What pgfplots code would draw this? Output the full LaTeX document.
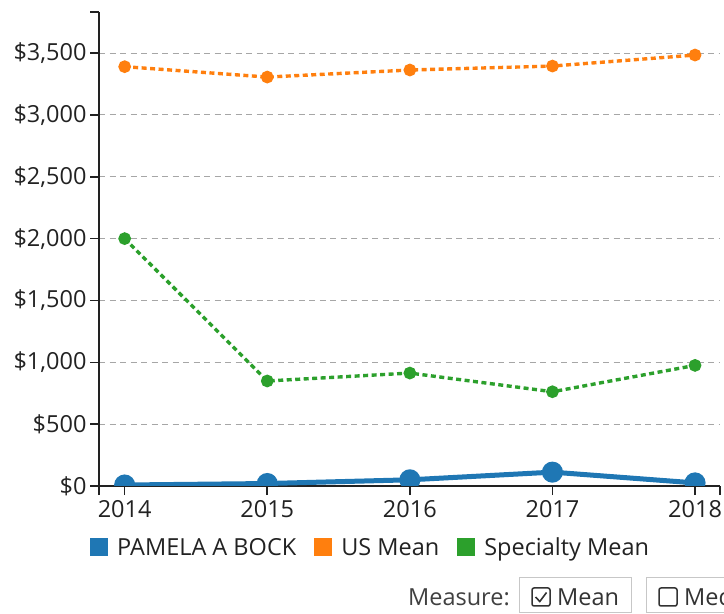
\documentclass[border=0pt]{standalone}
\usepackage{fontspec}
\setmainfont{Open Sans}
\usepackage{pgfplots}
\pgfplotsset{compat=1.18}
\definecolor{cblue}{HTML}{1F77B4}
\definecolor{corange}{HTML}{FF7F0E}
\definecolor{cgreen}{HTML}{2CA02C}
\definecolor{ctext}{HTML}{222222}
\begin{document}
\begin{tikzpicture}[x=1pt,y=1pt]
\useasboundingbox (0,0) rectangle (724,614);
\clip (0,0) rectangle (724,614);
\begin{axis}[
  at={(99pt,128pt)}, anchor=south west,
  scale only axis, width=621pt, height=474pt,
  xmin=2013.82, xmax=2018.175, ymin=0, ymax=3832,
  axis x line*=bottom, axis y line*=left,
  axis line style={-, line width=1.6pt, ctext},
  xtick={2014,2015,2016,2017,2018},
  xticklabels={2014,2015,2016,2017,2018},
  ytick={0,500,...,3500},
  yticklabel={\$\pgfmathprintnumber{\tick}},
  /pgf/number format/.cd, fixed, precision=0, 1000 sep={,}, assume math mode=true,
  /pgfplots/.cd,
  tick label style={font=\fontsize{23.5}{28}\selectfont, text=ctext},
  x tick label style={yshift=-1.5pt},
  ymajorgrids, grid style={dash pattern=on 6pt off 4.5pt, black!35, line width=1.1pt},
  tick align=outside, major tick length=9pt,
  tick style={line width=1.6pt, ctext},
  extra x ticks={2013.82,2018.175}, extra x tick labels={,},
  extra y ticks={3832}, extra y tick labels={}, extra y tick style={grid=none},
  clip marker paths=true,
  legend style={at={(axis description cs:0,0)}, anchor=north west,
    xshift=-9pt, yshift=-51pt, draw=none, fill=none, inner sep=0pt,
    font=\fontsize{23.5}{28}\selectfont, text=ctext,
    nodes={inner sep=0pt, anchor=base west},
    /tikz/every even column/.append style={column sep=18pt},
    /tikz/every odd column/.append style={column sep=9pt}},
  legend columns=3,
  legend image code/.code={\fill[#1, draw=none] (0pt,-0.8pt) rectangle (18pt,17.2pt);},
]
\addplot[cblue, line width=5pt, mark=*, mark size=8pt, mark options={draw=none, fill=cblue}]
  coordinates {(2014,8)(2015,20)(2016,50)(2017,112)(2018,25)};
\addlegendentry{PAMELA A BOCK}
\addplot[corange, line width=3.4pt, dash pattern=on 5pt off 3.5pt, mark=*, mark size=4.6pt, mark options={solid, draw=none, fill=corange}]
  coordinates {(2014,3390)(2015,3306)(2016,3363)(2017,3395)(2018,3484)};
\addlegendentry{US Mean}
\addplot[cgreen, line width=3.4pt, dash pattern=on 5pt off 3.5pt, mark=*, mark size=4.6pt, mark options={solid, draw=none, fill=cgreen}]
  coordinates {(2014,2000)(2015,849)(2016,913)(2017,762)(2018,975)};
\addlegendentry{Specialty Mean}
\end{axis}
\begin{scope}[font=\fontsize{23.5}{28}\selectfont]
\node[anchor=base east, inner sep=0pt, text=black!75] at (510,9) {Measure:};
\draw[black!22, line width=1pt] (519,1) rectangle (631,36);
\draw[black!80, line width=1.5pt, rounded corners=2pt] (532,8) rectangle (550,26);
\draw[black!80, line width=1.6pt] (535.5,17) -- (539.8,12.5) -- (546.5,21.5);
\node[anchor=base west, inner sep=0pt, text=black!80] at (557,9) {Mean};
\draw[black!22, line width=1pt] (646,1) rectangle (790,36);
\draw[black!80, line width=1.5pt, rounded corners=2pt] (659,8) rectangle (677,26);
\node[anchor=base west, inner sep=0pt, text=black!80] at (684,9) {Median};
\end{scope}
\end{tikzpicture}
\end{document}
